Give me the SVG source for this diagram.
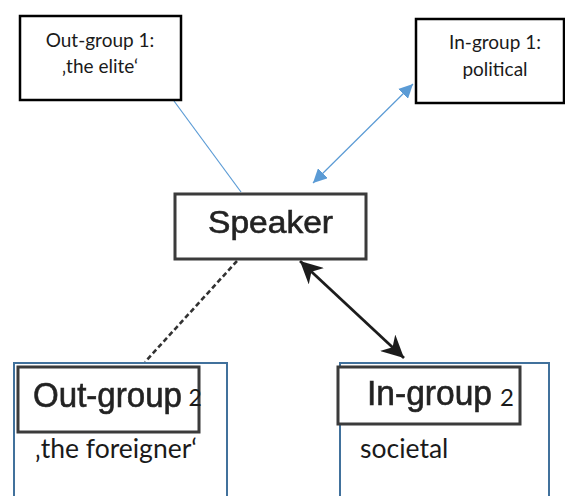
<svg xmlns="http://www.w3.org/2000/svg" width="565" height="496" viewBox="0 0 565 496">
<style>
.box{fill:#fff;stroke:#000;stroke-width:2.5}
.img{fill:#fff;stroke:#3a3a3a;stroke-width:3}
.blue{fill:none;stroke:#41719c;stroke-width:2}
.cal{font-family:Lato,"Open Sans",sans-serif;fill:#1a1a1a}
.hel{font-family:"Liberation Sans",Arial,sans-serif;fill:#222;stroke:#222;stroke-width:0.6}
</style>
<defs>
<marker id="ab" viewBox="0 0 10 10" refX="10" refY="5" markerWidth="14" markerHeight="14" markerUnits="userSpaceOnUse" orient="auto-start-reverse"><path d="M0,0 L10,5 L0,10 Z" fill="#5b9bd5"/></marker>
<marker id="ak" viewBox="0 0 10 10" refX="10" refY="5" markerWidth="8" markerHeight="8" orient="auto-start-reverse"><path d="M0,0 L10,5 L0,10 L3,5 Z" fill="#1e1e1e"/></marker>
<filter id="soft"><feGaussianBlur stdDeviation="0.6"/></filter>
</defs>
<g id="connectors">
<line x1="174" y1="101" x2="241" y2="192" stroke="#5b9bd5" stroke-width="1.2"/>
<line x1="313" y1="183" x2="413" y2="84" stroke="#5b9bd5" stroke-width="1.2" marker-start="url(#ab)" marker-end="url(#ab)"/>
<line x1="237" y1="261" x2="145" y2="362" stroke="#333" stroke-width="2.6" stroke-dasharray="5,3" filter="url(#soft)"/>
<line x1="300" y1="261" x2="404" y2="358" stroke="#1e1e1e" stroke-width="2.8" marker-start="url(#ak)" marker-end="url(#ak)" filter="url(#soft)"/>
</g>
<g id="outgroup1">
<rect class="box" x="20" y="16" width="161" height="84"/>
<text class="cal" x="100" y="47" font-size="19" text-anchor="middle">Out-group 1:</text>
<text class="cal" x="100" y="73" font-size="19" text-anchor="middle">‚the elite‘</text>
</g>
<g id="ingroup1">
<rect class="box" x="416" y="19" width="148" height="84"/>
<text class="cal" x="495" y="49" font-size="19" text-anchor="middle">In-group 1:</text>
<text class="cal" x="495" y="76" font-size="19" text-anchor="middle">political</text>
</g>
<g id="speaker">
<rect class="img" x="175" y="194" width="191" height="65" filter="url(#soft)"/>
<text class="hel" x="208" y="233" font-size="31" textLength="125" lengthAdjust="spacingAndGlyphs" filter="url(#soft)">Speaker</text>
</g>
<g id="outgroup2">
<rect class="blue" x="14" y="363" width="213" height="140"/>
<rect class="img" x="18" y="367" width="181" height="65" filter="url(#soft)"/>
<text class="hel" x="33" y="407" font-size="35" textLength="149" lengthAdjust="spacingAndGlyphs" filter="url(#soft)">Out-group</text>
<text class="cal" x="188.5" y="406" font-size="23">2</text>
<text class="cal" x="35" y="458" font-size="26.5">‚the foreigner‘</text>
</g>
<g id="ingroup2">
<rect class="blue" x="340" y="363" width="209" height="140"/>
<rect class="img" x="338" y="367" width="182" height="57" filter="url(#soft)"/>
<text class="hel" x="367" y="405" font-size="35" textLength="125" lengthAdjust="spacingAndGlyphs" filter="url(#soft)">In-group</text>
<text class="cal" x="500" y="406" font-size="24">2</text>
<text class="cal" x="360" y="458" font-size="26.5">societal</text>
</g>
</svg>
